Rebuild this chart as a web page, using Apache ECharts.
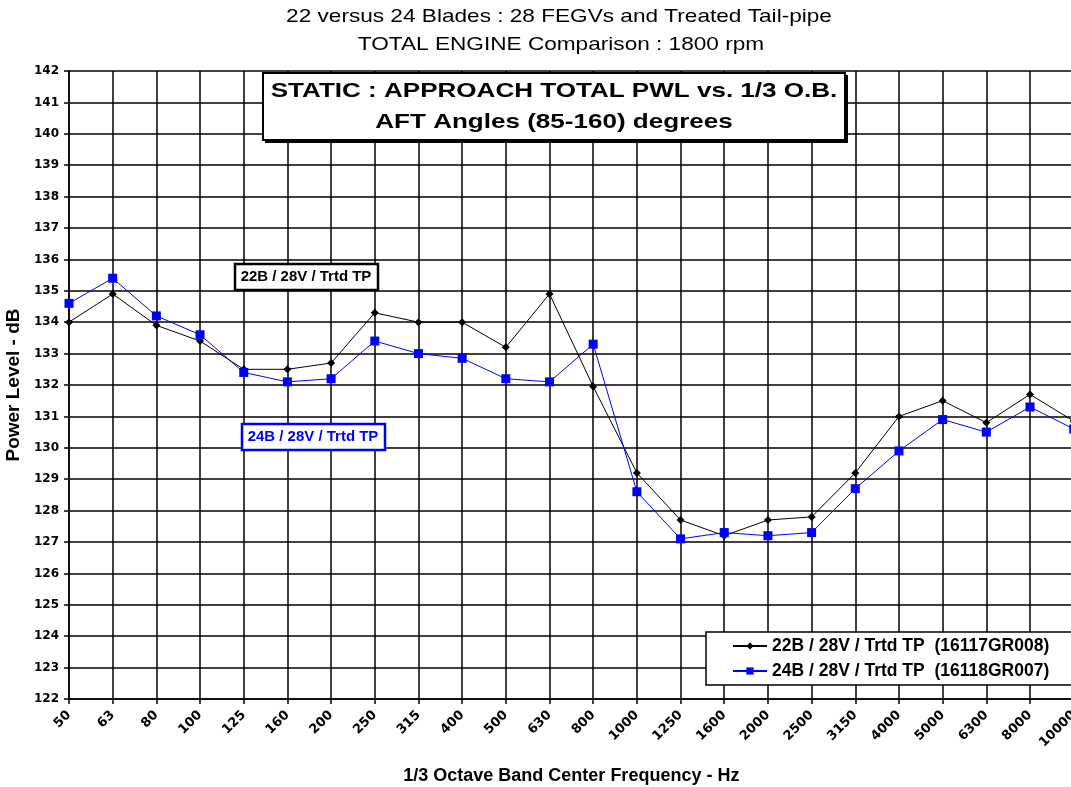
<!DOCTYPE html>
<html>
<head>
<meta charset="utf-8">
<script src="https://cdn.jsdelivr.net/npm/echarts@6/dist/echarts.min.js"></script>
<style>
html,body{margin:0;padding:0;background:#fff;}
#chart{width:1071px;height:787px;}
</style>
</head>
<body>
<div id="chart"></div>
<script>
const frequencies = ['50','63','80','100','125','160','200','250','315','400','500','630','800','1000','1250','1600','2000','2500','3150','4000','5000','6300','8000','10000'];
const series22B = [134.0,134.9,133.9,133.4,132.5,132.5,132.7,134.3,134.0,134.0,133.2,134.9,131.95,129.2,127.7,127.2,127.7,127.8,129.2,131.0,131.5,130.8,131.7,130.85];
const series24B = [134.6,135.4,134.2,133.6,132.4,132.1,132.2,133.4,133.0,132.85,132.2,132.1,133.3,128.6,127.1,127.3,127.2,127.3,128.7,129.9,130.9,130.5,131.3,130.6];
const name22B = '22B / 28V / Trtd TP  (16117GR008)';
const name24B = '24B / 28V / Trtd TP  (16118GR007)';
const titleLines = ['22 versus 24 Blades : 28 FEGVs and Treated Tail-pipe', 'TOTAL ENGINE Comparison : 1800 rpm'];
const boxLines = ['STATIC : APPROACH TOTAL PWL vs. 1/3 O.B.', 'AFT Angles (85-160) degrees'];
const tag22B = '22B / 28V / Trtd TP';
const tag24B = '24B / 28V / Trtd TP';
const yMin = 122, yMax = 142, yStep = 1;

const FONT = '"Liberation Sans", Arial, sans-serif';
const WIDE = '"DejaVu Sans", sans-serif';
const chart = echarts.init(document.getElementById('chart'), null, {renderer:'canvas'});
const gridLine = {color:'#000', width:1.5};

chart.setOption({
  backgroundColor:'#fff',
  animation:false,
  textStyle:{fontFamily:FONT},
  grid:{left:69, top:71, width:1004.7, height:628, containLabel:false, outerBoundsMode:'none'},
  legend:{
    orient:'vertical', left:706, top:632,
    padding:[5, 80, 5, 26], itemGap:7,
    itemWidth:34, itemHeight:9,
    backgroundColor:'#fff', borderColor:'#000', borderWidth:1.5,
    textStyle:{fontFamily:FONT, fontSize:17.5, fontWeight:'bold', color:'#000'},
    data:[name22B, name24B]
  },
  xAxis:{
    type:'category', data:frequencies, boundaryGap:false,
    name:'1/3 Octave Band Center Frequency - Hz', nameLocation:'middle', nameGap:68,
    nameTextStyle:{fontFamily:FONT, fontSize:18, fontWeight:'bold', color:'#000'},
    axisLine:{lineStyle:gridLine},
    axisTick:{show:true, length:5, lineStyle:gridLine},
    axisLabel:{rotate:45, fontFamily:WIDE, fontSize:13, fontWeight:'bold', color:'#000', margin:14, interval:0},
    splitLine:{show:true, lineStyle:gridLine}
  },
  yAxis:{
    type:'value', min:yMin, max:yMax, interval:yStep,
    name:'Power Level - dB', nameLocation:'middle', nameGap:45,
    nameTextStyle:{fontFamily:FONT, fontSize:19, fontWeight:'bold', color:'#000'},
    axisLine:{show:true, lineStyle:gridLine},
    axisTick:{show:true, length:5, lineStyle:gridLine},
    axisLabel:{fontFamily:WIDE, fontSize:12, fontWeight:'bold', color:'#000', margin:10},
    splitLine:{show:true, lineStyle:gridLine}
  },
  series:[
    {name:name22B, type:'line', data:series22B, symbol:'diamond', symbolSize:8,
     lineStyle:{color:'#000', width:1}, itemStyle:{color:'#000'}, z:3},
    {name:name24B, type:'line', data:series24B, symbol:'rect', symbolSize:9,
     lineStyle:{color:'#0000ff', width:1}, itemStyle:{color:'#0000ff'}, z:4}
  ],
  graphic:[
    {type:'text', x:559, y:17, scaleX:1.19, style:{text:titleLines[0], fill:'#000',
      font:'19px '+FONT, textAlign:'center', textVerticalAlign:'middle'}, z:12},
    {type:'text', x:561, y:45, scaleX:1.19, style:{text:titleLines[1], fill:'#000',
      font:'19px '+FONT, textAlign:'center', textVerticalAlign:'middle'}, z:12},
    {type:'rect', shape:{x:265, y:75, width:583, height:68}, style:{fill:'#000'}, z:10},
    {type:'rect', shape:{x:263, y:73, width:582, height:67}, style:{fill:'#fff', stroke:'#000', lineWidth:2}, z:11},
    {type:'text', x:554, y:91, scaleX:1.24, style:{text:boxLines[0], fill:'#000',
      font:'bold 21px '+FONT, textAlign:'center', textVerticalAlign:'middle'}, z:12},
    {type:'text', x:554, y:122, scaleX:1.24, style:{text:boxLines[1], fill:'#000',
      font:'bold 21px '+FONT, textAlign:'center', textVerticalAlign:'middle'}, z:12},
    {type:'rect', shape:{x:235, y:264, width:143, height:26}, style:{fill:'#fff', stroke:'#000', lineWidth:2.5}, z:11},
    {type:'text', x:306, y:277, scaleX:1.07, style:{text:tag22B, fill:'#000',
      font:'bold 14px '+FONT, textAlign:'center', textVerticalAlign:'middle'}, z:12},
    {type:'rect', shape:{x:242, y:424, width:143, height:26}, style:{fill:'#fff', stroke:'#0000ff', lineWidth:2.5}, z:11},
    {type:'text', x:313, y:437, scaleX:1.07, style:{text:tag24B, fill:'#0000ff',
      font:'bold 14px '+FONT, textAlign:'center', textVerticalAlign:'middle'}, z:12}
  ]
});
</script>
</body>
</html>
